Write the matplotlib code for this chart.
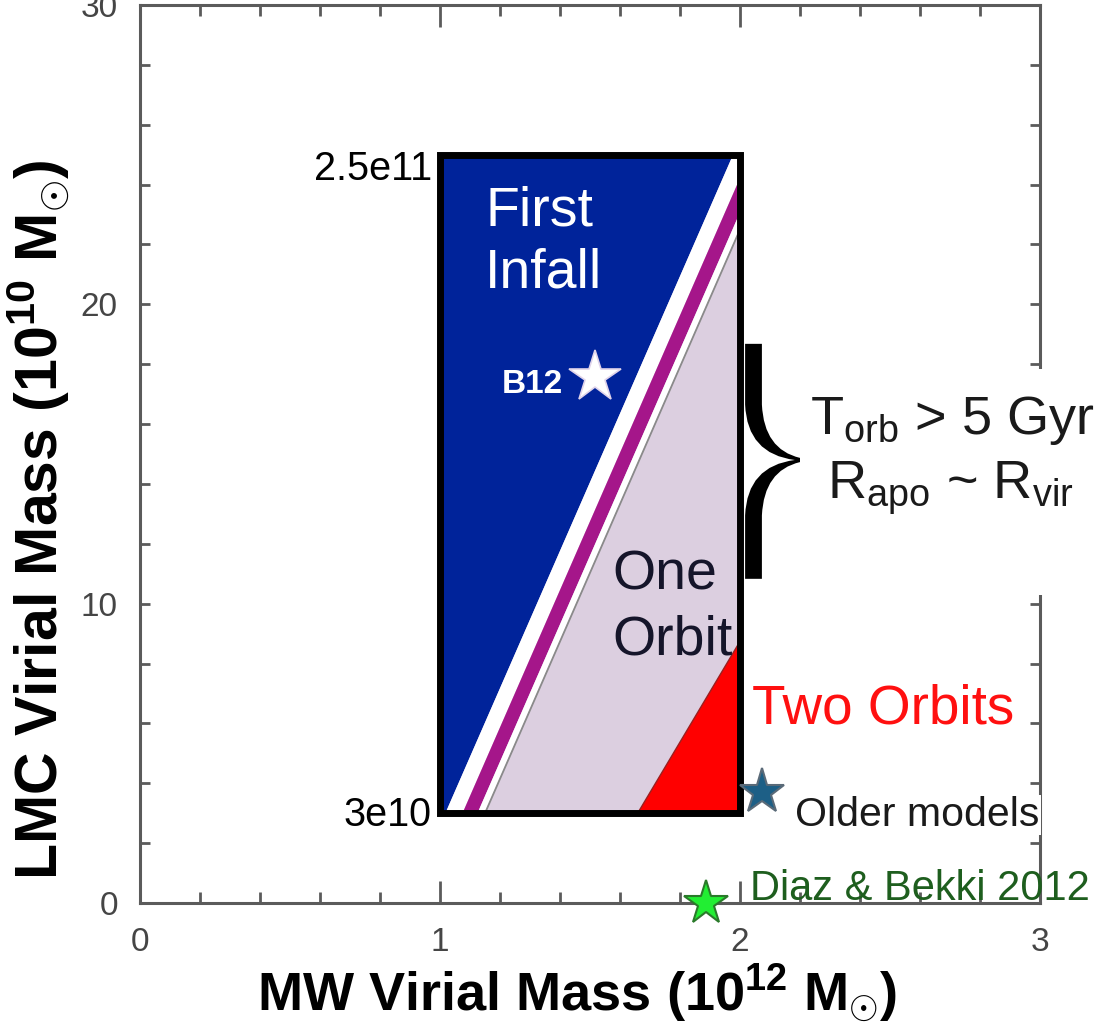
import numpy as np
import matplotlib
matplotlib.use("Agg")
import matplotlib.pyplot as plt
from matplotlib.patches import Rectangle, Polygon, PathPatch
from matplotlib.path import Path

plt.rcParams['font.family'] = ['Liberation Sans', 'DejaVu Sans']
plt.rcParams['mathtext.fontset'] = 'custom'
plt.rcParams['mathtext.rm'] = 'Liberation Sans'
plt.rcParams['mathtext.it'] = 'Liberation Sans:italic'
plt.rcParams['mathtext.bf'] = 'Liberation Sans:bold'

# ---- data (MW mass in 1e12 Msun, LMC mass in 1e10 Msun) ----
mw_range = [1.0, 2.0]
lmc_range = [3.0, 25.0]
# first-infall / one-orbit boundary: MW mass at the lower and upper LMC mass
infall_edge_x = [1.018, 1.977]
infall_edge_y = [3.0, 25.0]
# offsets of the stripes that follow the boundary (white, magenta, white)
stripe_offsets = [0.0, 0.057, 0.107, 0.130]
stripe_colors = ['white', '#a5168a', 'white']
gray_line_offset = 0.132
# two-orbit corner
two_orbit_x = [1.657, 2.0, 2.0]
two_orbit_y = [3.0, 3.0, 8.8]
# individual models
b12_xy = (1.517, 17.57)
older_xy = (2.073, 3.7)
diaz_xy = (1.887, 0.0)

x_ticks = [0, 1, 2, 3]
y_ticks = [0, 10, 20, 30]

blue = '#00239a'
lavender = '#dccfe0'
axis_gray = '#5b5b5b'

fig = plt.figure(figsize=(10.99, 10.28), dpi=100)
ax = fig.add_axes([140 / 1099, 125 / 1028, 900 / 1099, 898 / 1028])
ax.set_xlim(0, 3)
ax.set_ylim(0, 30)

for sp in ax.spines.values():
    sp.set_color(axis_gray)
    sp.set_linewidth(2.2)

ax.set_xticks(x_ticks)
ax.set_xticks(np.arange(0, 3.01, 0.2), minor=True)
ax.set_yticks(y_ticks)
ax.set_yticks(np.arange(0, 30.1, 2), minor=True)
ax.tick_params(which='both', direction='in', top=True, right=True,
               color=axis_gray, width=2, labelsize=24, labelcolor='#454545')
ax.tick_params(axis='x', which='major', length=16, pad=17)
ax.tick_params(axis='x', which='minor', length=8)
ax.tick_params(axis='y', which='both', length=7, pad=16)

# ---- parameter-space box ----
x0, x1 = mw_range
y0, y1 = lmc_range
box = Rectangle((x0, y0), x1 - x0, y1 - y0, facecolor=lavender,
                edgecolor='none', zorder=2)
ax.add_patch(box)
clip_box = Rectangle((x0, y0), x1 - x0, y1 - y0, transform=ax.transData)

ex0, ex1 = infall_edge_x
ey0, ey1 = infall_edge_y
blue_poly = Polygon([(x0 - 0.1, ey0), (ex0, ey0), (ex1, ey1), (x0 - 0.1, ey1)],
                    closed=True, facecolor=blue, edgecolor='none', zorder=2.1)
ax.add_patch(blue_poly)
blue_poly.set_clip_path(clip_box)

for i, col in enumerate(stripe_colors):
    a, b = stripe_offsets[i], stripe_offsets[i + 1]
    p = Polygon([(ex0 + a, ey0), (ex0 + b, ey0), (ex1 + b, ey1), (ex1 + a, ey1)],
                closed=True, facecolor=col, edgecolor='none', zorder=2.2)
    ax.add_patch(p)
    p.set_clip_path(clip_box)

gl, = ax.plot([ex0 + gray_line_offset, ex1 + gray_line_offset], [ey0, ey1],
              color='#8a8a8a', lw=1.3, zorder=2.3)
gl.set_clip_path(clip_box)

red_tri = Polygon(list(zip(two_orbit_x, two_orbit_y)), closed=True,
                  facecolor='#ff0000', edgecolor='#9a2020', lw=1.0, zorder=2.4)
ax.add_patch(red_tri)

ax.add_patch(Rectangle((x0, y0), x1 - x0, y1 - y0, facecolor='none',
                       edgecolor='black', lw=5, zorder=3, joinstyle='miter'))

# ---- labels inside / beside the box ----
ax.text(1.15, 22.65, 'First', color='white', fontsize=40, va='baseline', zorder=4)
ax.text(1.15, 20.55, 'Infall', color='white', fontsize=40, va='baseline', zorder=4)
ax.text(1.573, 10.46, 'One', color='#15152a', fontsize=40, va='baseline', zorder=4)
ax.text(1.573, 8.29, 'Orbit', color='#15152a', fontsize=40, va='baseline', zorder=4)
ax.text(2.04, 5.98, 'Two Orbits', color='#ff1010', fontsize=39.5, va='baseline',
        zorder=4)

ax.text(0.973, 24.16, '2.5e11', color='black', fontsize=28.5, ha='right',
        va='baseline', zorder=4)
ax.text(0.973, 2.57, '3e10', color='black', fontsize=28.5, ha='right',
        va='baseline', zorder=4)

# ---- model points ----
ax.plot(*b12_xy, marker='*', ms=39, mfc='white', mec='#e0d4ea', mew=1.2,
        zorder=5, clip_on=False)
ax.text(1.205, 17.04, 'B12', color='white', fontsize=24, fontweight='bold',
        va='baseline', zorder=5)

ax.plot(*older_xy, marker='*', ms=34, mfc='#1d5f86', mec='#5a6a78', mew=1.5,
        zorder=5, clip_on=False)
ax.text(2.183, 2.57, 'Older models', color='#1a1a1a', fontsize=29.5,
        va='baseline', zorder=5,
        bbox=dict(facecolor='white', edgecolor='none', pad=1))

ax.plot(*diaz_xy, marker='*', ms=33, mfc='#22ee33', mec='#2a7a2a', mew=1.5,
        zorder=6, clip_on=False)
ax.text(2.033, 0.1, 'Diaz & Bekki 2012', color='#1e5e1e', fontsize=30,
        va='baseline', zorder=5)

# ---- brace with orbit-period annotation ----
ax.add_patch(Rectangle((2.2, 10.29), 1.0, 7.55, facecolor='white',
                       edgecolor='none', zorder=3, clip_on=False))

xl, xr, xt = 2.017, 2.073, 2.2
yt, yb, ym = 18.68, 10.83, 14.8
verts = [
    (xl, yt), (xr, yt), (xr, ym + 1.85),
    (xr + 0.007, ym + 0.35), (xt, ym + 0.07),
    (xt, ym - 0.07),
    (xr + 0.007, ym - 0.35), (xr, ym - 1.85),
    (xr, yb), (xl, yb), (xl, ym - 1.85),
    (xl + 0.007, ym - 0.2), (xt - 0.017, ym),
    (xl + 0.007, ym + 0.2), (xl, ym + 1.85),
    (xl, yt),
]
codes = [Path.MOVETO, Path.LINETO, Path.LINETO,
         Path.CURVE3, Path.CURVE3,
         Path.LINETO,
         Path.CURVE3, Path.CURVE3,
         Path.LINETO, Path.LINETO, Path.LINETO,
         Path.CURVE3, Path.CURVE3,
         Path.CURVE3, Path.CURVE3,
         Path.CLOSEPOLY]
ax.add_patch(PathPatch(Path(verts, codes), facecolor='black', edgecolor='none',
                       zorder=4, clip_on=False))

ax.text(2.707, 15.67, r'T$_{\rm orb}$ > 5 Gyr', color='#1a1a1a', fontsize=39,
        ha='center', va='baseline', zorder=4)
ax.text(2.70, 13.5, r'R$_{\rm apo}$ ~ R$_{\rm vir}$', color='#1a1a1a', fontsize=39,
        ha='center', va='baseline', zorder=4)

# ---- axis titles ----
ax.set_xlabel(r'MW Virial Mass (10$^{\mathbf{12}}$ M$_{\odot}$)',
              fontsize=39, fontweight='bold')
ax.xaxis.set_label_coords(0.4856, -0.101)
ax.xaxis.label.set_va('center')
ax.set_ylabel(r'LMC Virial Mass (10$^{\mathbf{10}}$ M$_{\odot}$)',
              fontsize=42.5, fontweight='bold')
ax.yaxis.set_label_coords(-0.113, 0.4265)
ax.yaxis.label.set_va('center')

fig.savefig('out.png', dpi=100)
